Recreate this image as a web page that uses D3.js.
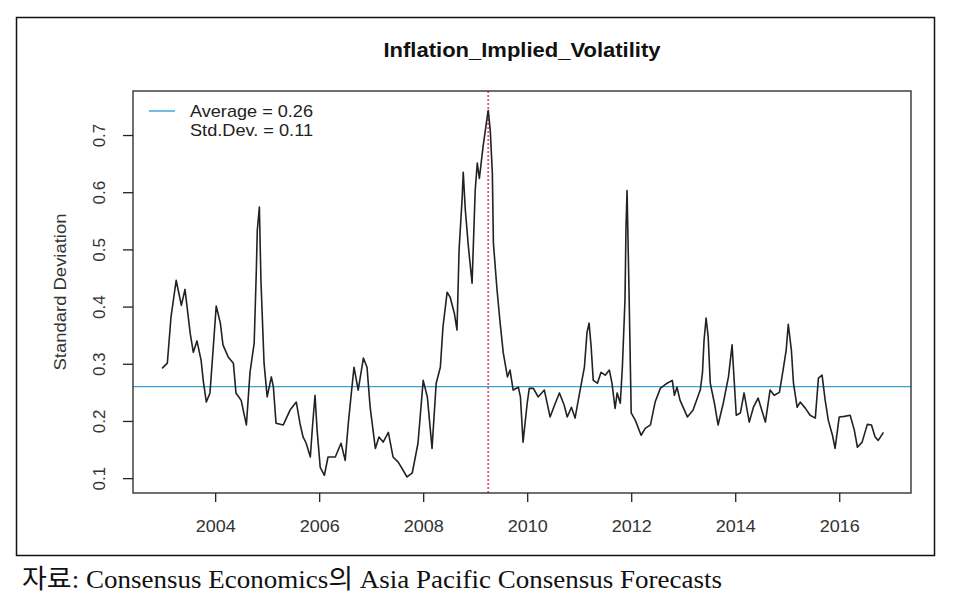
<!DOCTYPE html>
<html><head><meta charset="utf-8">
<script src="https://cdn.jsdelivr.net/npm/d3@7"></script>
<style>
html,body{margin:0;padding:0;background:#fff;}
svg{display:block;}
</style></head>
<body>
<svg id="chart" width="969" height="612"></svg>
<script>
// ---- data ----
const title = "Inflation_Implied_Volatility";
const yLabel = "Standard Deviation";
const caption = "자료: Consensus Economics의 Asia Pacific Consensus Forecasts";
const legendLines = ["Average = 0.26", "Std.Dev. = 0.11"];
const averageValue = 0.26;
const markerYear = 2009.25;
const xTicks = [2004, 2006, 2008, 2010, 2012, 2014, 2016];
const yTicks = [0.1, 0.2, 0.3, 0.4, 0.5, 0.6, 0.7];
const xDomain = [2002.42, 2017.38];
const yDomain = [0.074, 0.777];

const dates = [
 2002.98,2003.08,2003.15,2003.25,2003.35,2003.42,2003.52,2003.58,2003.65,2003.73,
 2003.77,2003.83,2003.90,2003.96,2004.02,2004.10,2004.15,2004.25,2004.35,2004.40,
 2004.50,2004.60,2004.67,2004.75,2004.79,2004.81,2004.85,2004.88,2004.94,2005.00,
 2005.08,2005.12,2005.17,2005.31,2005.44,2005.56,2005.63,2005.69,2005.75,2005.83,
 2005.87,2005.92,2005.96,2006.02,2006.10,2006.17,2006.31,2006.42,2006.50,2006.56,
 2006.63,2006.67,2006.75,2006.85,2006.92,2006.98,2007.08,2007.15,2007.23,2007.33,
 2007.42,2007.52,2007.69,2007.79,2007.90,2008.00,2008.08,2008.17,2008.25,2008.33,
 2008.38,2008.46,2008.52,2008.60,2008.65,2008.69,2008.75,2008.77,2008.81,2008.87,
 2008.94,2009.00,2009.04,2009.08,2009.15,2009.23,2009.25,2009.29,2009.33,2009.35,
 2009.42,2009.48,2009.54,2009.62,2009.67,2009.73,2009.83,2009.87,2009.92,2010.00,
 2010.04,2010.12,2010.21,2010.33,2010.44,2010.54,2010.62,2010.71,2010.77,2010.85,
 2010.92,2011.00,2011.10,2011.15,2011.19,2011.23,2011.27,2011.35,2011.42,2011.50,
 2011.58,2011.63,2011.69,2011.73,2011.79,2011.83,2011.88,2011.90,2011.92,2011.96,
 2012.00,2012.08,2012.19,2012.27,2012.37,2012.46,2012.56,2012.69,2012.79,2012.83,
 2012.88,2012.94,2013.08,2013.19,2013.33,2013.37,2013.40,2013.44,2013.48,2013.52,
 2013.60,2013.67,2013.77,2013.87,2013.94,2013.96,2014.02,2014.10,2014.17,2014.27,
 2014.35,2014.44,2014.58,2014.67,2014.75,2014.85,2014.92,2014.98,2015.02,2015.08,
 2015.12,2015.19,2015.25,2015.35,2015.44,2015.54,2015.60,2015.67,2015.73,2015.79,
 2015.87,2015.92,2016.00,2016.10,2016.21,2016.29,2016.35,2016.44,2016.54,2016.62,
 2016.69,2016.75,2016.85
];
const values = [
 0.292,0.301,0.381,0.446,0.402,0.430,0.353,0.320,0.340,0.306,
 0.271,0.233,0.249,0.324,0.401,0.371,0.333,0.312,0.301,0.249,
 0.236,0.193,0.285,0.336,0.458,0.534,0.574,0.446,0.301,0.242,
 0.277,0.259,0.196,0.193,0.219,0.233,0.196,0.172,0.161,0.137,
 0.189,0.245,0.184,0.119,0.105,0.137,0.137,0.161,0.131,0.196,
 0.259,0.294,0.254,0.310,0.294,0.224,0.152,0.172,0.163,0.180,
 0.137,0.128,0.102,0.109,0.161,0.271,0.242,0.152,0.266,0.294,
 0.364,0.425,0.416,0.388,0.359,0.499,0.591,0.635,0.569,0.504,
 0.441,0.603,0.651,0.624,0.679,0.731,0.743,0.708,0.633,0.511,
 0.429,0.371,0.319,0.277,0.289,0.254,0.259,0.242,0.163,0.231,
 0.257,0.257,0.242,0.254,0.207,0.231,0.249,0.228,0.207,0.224,
 0.205,0.245,0.294,0.355,0.371,0.329,0.271,0.266,0.285,0.280,
 0.289,0.266,0.222,0.249,0.231,0.294,0.411,0.539,0.603,0.416,
 0.214,0.201,0.175,0.187,0.193,0.233,0.257,0.266,0.271,0.245,
 0.259,0.236,0.207,0.219,0.255,0.284,0.340,0.380,0.347,0.266,
 0.231,0.193,0.231,0.277,0.333,0.301,0.210,0.214,0.249,0.198,
 0.224,0.240,0.198,0.254,0.245,0.250,0.289,0.324,0.369,0.324,
 0.266,0.224,0.233,0.222,0.210,0.205,0.275,0.280,0.236,0.201,
 0.175,0.152,0.207,0.208,0.210,0.184,0.154,0.163,0.194,0.193,
 0.172,0.166,0.180
];

// ---- drawing ----
const svg = d3.select("#chart");
const plot = {left: 133, right: 911, top: 91, bottom: 493};
const x = d3.scaleLinear().domain(xDomain).range([plot.left, plot.right]);
const y = d3.scaleLinear().domain(yDomain).range([plot.bottom, plot.top]);
const font = "'Liberation Sans', Arial, sans-serif";

// outer frame
svg.append("rect").attr("x", 16.5).attr("y", 17.5).attr("width", 918).attr("height", 538)
  .attr("fill", "none").attr("stroke", "#111").attr("stroke-width", 1.5);

// title
svg.append("text").attr("x", 522).attr("y", 57).attr("text-anchor", "middle")
  .attr("font-family", font).attr("font-weight", "bold").attr("font-size", 20)
  .attr("textLength", 277).attr("lengthAdjust", "spacingAndGlyphs")
  .attr("fill", "#111").text(title);

// average line
svg.append("line").attr("x1", plot.left).attr("x2", plot.right)
  .attr("y1", y(averageValue)).attr("y2", y(averageValue))
  .attr("stroke", "#3a9fd8").attr("stroke-width", 1.4);

// marker line
svg.append("line").attr("x1", x(markerYear)).attr("x2", x(markerYear))
  .attr("y1", plot.top).attr("y2", plot.bottom)
  .attr("stroke", "#DF536B").attr("stroke-width", 1.8).attr("stroke-dasharray", "2,2");

// series
const pts = dates.map((d, i) => [d, values[i]]);
svg.append("path").datum(pts)
  .attr("d", d3.line().x(d => x(d[0])).y(d => y(d[1])))
  .attr("fill", "none").attr("stroke", "#222").attr("stroke-width", 1.6)
  .attr("stroke-linejoin", "round");

// box
svg.append("rect").attr("x", plot.left).attr("y", plot.top)
  .attr("width", plot.right - plot.left).attr("height", plot.bottom - plot.top)
  .attr("fill", "none").attr("stroke", "#333").attr("stroke-width", 1.4);

// x axis
const xAxis = svg.append("g").attr("transform", `translate(0,${plot.bottom})`)
  .call(d3.axisBottom(x).tickValues(xTicks).tickFormat(d3.format("d")).tickSize(9).tickPadding(18));
xAxis.select(".domain").remove();
xAxis.selectAll("line").attr("stroke", "#222").attr("stroke-width", 1.3);
xAxis.selectAll("text").attr("font-family", font).attr("font-size", 17).attr("fill", "#333")
  .attr("textLength", 40).attr("lengthAdjust", "spacingAndGlyphs");

// y axis
const yAxis = svg.append("g").attr("transform", `translate(${plot.left},0)`)
  .call(d3.axisLeft(y).tickValues(yTicks).tickFormat(d3.format(".1f")).tickSize(10).tickPadding(0));
yAxis.select(".domain").remove();
yAxis.selectAll("line").attr("stroke", "#222").attr("stroke-width", 1.3);
yAxis.selectAll("text").attr("font-family", font).attr("font-size", 17).attr("fill", "#333")
  .attr("text-anchor", "middle").attr("dy", 0)
  .attr("transform", "translate(-34,0) rotate(-90)")
  .attr("x", 0).attr("y", 6);

// y label
svg.append("text").attr("transform", `translate(66,${(plot.top + plot.bottom) / 2}) rotate(-90)`)
  .attr("text-anchor", "middle").attr("font-family", font).attr("font-size", 17)
  .attr("textLength", 157).attr("lengthAdjust", "spacingAndGlyphs")
  .attr("fill", "#333").text(yLabel);

// legend
svg.append("line").attr("x1", 149).attr("x2", 175).attr("y1", 111).attr("y2", 111)
  .attr("stroke", "#3a9fd8").attr("stroke-width", 1.4);
legendLines.forEach((t, i) => {
  svg.append("text").attr("x", 190).attr("y", 117 + i * 19)
    .attr("font-family", font).attr("font-size", 17).attr("fill", "#222")
    .attr("textLength", 123).attr("lengthAdjust", "spacingAndGlyphs").text(t);
});

// caption
svg.append("text").attr("x", 22).attr("y", 588)
  .attr("font-family", "'Liberation Serif', 'Noto Sans CJK KR', serif").attr("font-size", 26)
  .attr("fill", "#111").attr("textLength", 700).attr("lengthAdjust", "spacingAndGlyphs")
  .text(caption);
</script>
</body></html>
